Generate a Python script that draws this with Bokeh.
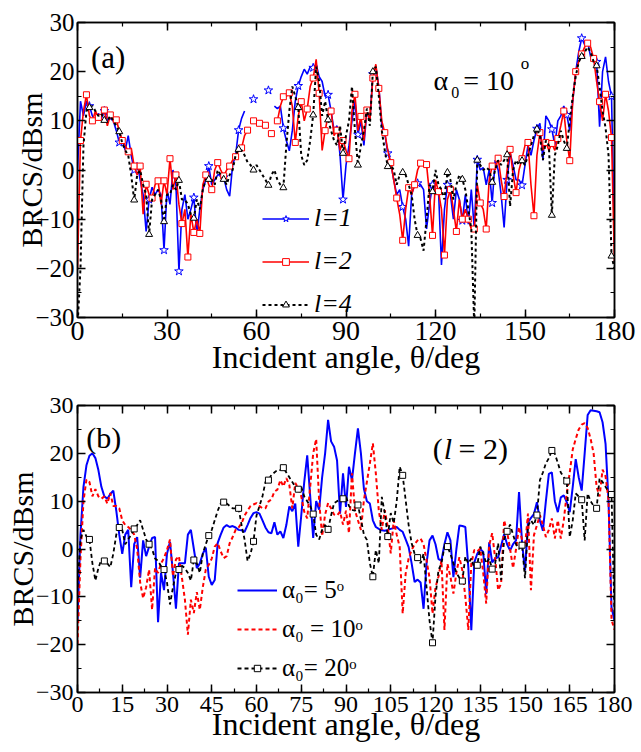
import numpy as np
from bokeh.plotting import figure
from bokeh.layouts import column
from bokeh.models import (Range1d, LinearAxis, SingleIntervalTicker, Legend,
                          LegendItem, Label, ColumnDataSource)
from bokeh.embed import file_html
from bokeh.resources import INLINE

nan = float("nan")
FONT = "Liberation Serif"

# ---------------- data ----------------
theta = list(range(181))  # incident angle, deg

# panel (a): alpha0 = 10 deg
a_l1 = [0, 14, 11, 14, 13, 11, 10, 11.5, 10.5, 12,
        10, 10.5, 10, 8, 5.6, 6, 4, 7, 3, 0,
        1.5, -2, -5, -12.5, -6, -3.5, -5, -4, -5, -16.3,
        -4, -7, 0, -3, -20.6, -8, -5, -10, -8, -5.6,
        -13, -8, -4, -2, 0.8, -3, -2, -1, -1, -1.5,
        -4, -5.3, 1, 3, 8.1, 10.5, 12, nan, nan, 14.4,
        nan, nan, nan, nan, 16.2, nan, 13, 12.5, 13, 8.5,
        6, 3.9, 8, 14, 17.1, 19, 20.5, 19.5, 21, 20.8,
        21.5, 19, 18, 15, 15.3, 12, 8, 9, 3, -6,
        1, 5, 10, 14, 7.2, 10, 5, 12, 10, 19.5,
        21, 17, 9, 7.5, 3.4, 1.5, -2, -5, -4, -7.5,
        -10, -15.5, -5, -3, -2.7, -3, -4, -12, -7, -3,
        -5, -4, -19.3, -8, -3, -5, -10, -4, -6, -10.3,
        -5, -11, -4, -12, 2.1, 0, 0.5, -3, 0, -6.7,
        2, 0, -5, -11.7, -2, 3.5, 1, -2, -2, -3.1,
        1, 5, 3, 6, 8.4, 9.5, 2, 11, 10, 8.3,
        5, 10, 11, 13, 11.2, 8, 14, 20, 24, 26.8,
        25.5, 26, 23, 22, 22, 8.8, 20, 23, 18, 15,
        -15]

a_l2 = [-20, 6, 12, 15.3, 11, 10, 12, 10.7, 11, 12.2,
        9, 11.2, 10, 10.2, 8, 6, 5, 3.7, 4.5, 0.8,
        -1, 0.8, -9, -2.9, -5, -5.7, -3, -2.2, -7, -2.2,
        -5, 2.3, -4, -1, -7, -10.9, -8, -17.7, -9, -12.7,
        -10, -12.9, -3, -1, -3, -4, 0, 1.5, 0, -1.2,
        0, 0.8, 2, 2.7, 4, 4.5, 7, 8.1, nan, 10,
        nan, 9.5, nan, 9.1, nan, 7.4, nan, 10, 13, 14.9,
        15, 15.7, 13, 5.6, 11, 13.9, 10, 12.4, 17, 18.7,
        22.5, 15.6, 4, 8, 11, 12, 7, 8.1, 4, 6,
        4, 2.3, 12, 15.4, 8, 10.9, 6, 12.2, 10, 18.7,
        21.5, 16.6, 10, 7.6, 4, 1.5, -2, -5.7, -9, -14.3,
        -8, -3.6, -5, -3, 0, 1.4, 1.5, 1.1, -5, -13.3,
        -2, -4.4, -8, -17.3, -6, -4, -8, -12.5, -6, -10,
        -8, -10, -12, -12, -3, -6.7, -8, -12, -2, 0.8,
        0, 2.4, -2, -5.4, 0, 4.2, -1, -4.6, 0, 2.3,
        5, 5.6, -3, -9.3, 3, 7.6, 4, 5.6, 4, 5.4,
        4, 6.4, 9, 12, 6, 1.9, 14, 20, 22, 23.6,
        25, 25.8, 25, 22.7, 18, 13.9, 10, 15.4, 12, 6.6,
        -19]

a_l4 = [-32, -20, 5, 12, 12.7, 13, 12, 11, 11.5, 10.1,
        10, 11, 10, 9, 7.8, 5.5, 4, 3, -1, -6.1,
        -1, 0, -3, -5, -13.1, -6, -5, -4, -6, -10.5,
        -5, -5, -3, -4, -2.1, -6, -6, -7, -9, -9.8,
        -6, -8, -4, -2, -1.9, -2, -3, 0, -1, -1.9,
        -3, -1, 0, 3, 4.2, 4, 3, 1.6, 1, 0,
        1, 0, -1, -2, -3.1, -1, 0, -2, -3, -3.6,
        5, 12, 17, 15, 12.7, 3, 1, 2, 6, 11.2,
        21, 18, 11, 14, 10.2, 8, 6, 5, 9, 3.4,
        7, 10, 17, 8, 1, 5, 8, 12.5, 9, 20,
        21, 15, 8, 4, 0.7, 1, 0, -3, -1, -0.5,
        -1, -3, -5, -10, -13.3, -14, -16.4, -10, -3, -4.4,
        0, -3, -4, -6, -0.5, -2, -6, -3, -1, -1.9,
        -4, -8, -12, -32, 2, 1, 0, 0.5, 0, -2.5,
        0, 2, 1, 2, 3.1, -7.4, 0, 2, 1, 1.9,
        1, 3, 5, 7, 8.3, 7, 2, 6, 5, -9.2,
        3, 5, 8, 6, 4.4, 10, 15, 19, 22, 23.1,
        24, 25, 24, 22, 21.2, 17, 12, 8.6, 3, -17.5,
        -20]

# panel (b): l = 2
b_a5 = [-15, 3, 13, 17.5, 19.5, 20, 19, 16.5, 13, 11,
        10.5, 11.5, 12.2, 8, 3, -1, 3, 4, -8, 1,
        2.5, -6, 1.8, -1.5, 0.5, 2.3, 2.5, -15.3, -5, -8.6,
        -1, 1.5, -5, -12.5, -3, -3, -3, 3, 4, 0,
        -4, -3, -1, 0.3, -5.8, -7.5, -6.5, 1.3, 3, 4.5,
        5, 4.6, 4.8, 4.5, 4, 3.9, 3.6, 5, 6.5, 7.5,
        7.7, 7.4, 6, 4.5, 3.5, 3.3, 5.6, 3, 3.7, 2.3,
        5, 8.9, 7.9, 9.5, 0.5, 7, 14, 19.6, 11, 2.3,
        10, 8.2, 15, 20, 27, 22.5, 21.4, 18.5, 7.4, 15.8,
        8.8, 17.2, 14.4, 20, 25.2, 20, 12.6, 10, 9.5, 6,
        4.6, 4.2, 3.9, 3.8, 4, 4.2, 4.4, 4.6, 4, 3.6,
        2, 0.4, -3, -6.9, -6.4, -7, -12.5, -3, 1.8, 2.8,
        1, -2.1, -2.4, 1, 3.5, 1.8, -5.9, 0, 4.9, 4.8,
        4.6, -3.8, -17, -2.8, -1, 0, -0.6, -9.4, 1.4, -2.8,
        -2, -1.7, 0.7, 3.1, 1, -0.3, 1, 1.8, 11.9, 1.4,
        -4.5, 5.6, 6.5, 7.3, 9.8, 5.9, 3.8, 10, 15.7, 16,
        10, 7.7, 10.8, 11.2, 9.8, 7.7, 13, 18.8, 15, 12.2,
        20, 28, 29, 28.9, 28.8, 28.6, 26.5, 22, 10, -12.2,
        -15]

b_a10 = [-19.9, -2, 10, 14.5, 14, 11, 12.5, 11, 10.5, 11,
         9.5, 11.7, 9, 9, 8.5, 6, 5, 4.6, 4, 3,
         0, -7, -10.3, -8, -4.3, -12.7, -4, -5, -3, -1.9,
         -0.2, 2, -5.7, -2.2, -1.5, -6, -10.6, -17.9, -10.6, -13.4,
         -9, -12.7, -8, -4.3, -3.3, -2, 0.5, 1.2, -0.5, -1.9,
         -1.5, 1.2, 2.5, 4, 4.5, 5.4, 7, 8, 9, 9.3,
         9.6, 9, 8.5, 8.5, 9.9, 10.4, 12, 12.4, 14.4, 13.1,
         14.8, 13.4, 8.5, 13.8, 12.7, 11, 7.8, 6.4, 13, 20,
         23, 10, 2.7, 7.2, 9.6, 8.5, 7.2, 7, 7.8, 5.1,
         8, 3.3, 15.8, 8.1, 6, 4, 10.2, 14, 17.9, 22.1,
         15.8, 8, 4, 8.1, 4.6, -0.9, 6, 3, 0.4, -13.5,
         -5.1, -2, -0.2, 1, 1.8, 2.2, 1, -2.4, -6, -13.5,
         -8, -5.8, -2.4, -16.9, -3.1, -5.8, -9.3, -5, -1.7, -4.5,
         -10, -16.9, -3.1, -0.2, -0.5, 0.1, -5, -11.4, 0.8, 3.3,
         -2, -8.6, -7.2, 6, 3.6, 0, -4, 0, 4.6, 2,
         0.5, 7.4, -8.6, 2.9, 5, 7.1, 5, 2.5, 4, 6.4,
         2.2, 6, 2.2, 6, 11.6, 16, 20.8, 23, 25, 26,
         26.3, 25.3, 23, 20, 13, 11, 16.6, 15.2, 10.3, -14.8,
         -16.9]

b_a20 = [-8, 2, 4, 2.6, 2, -3, -6.6, -4, -2.2, -2.5,
         -3, -3.8, -1, 3, 4.5, 4, 1, 2, 3, 4.2,
         5, 6, 4, 2, 1, 0, -2, -2.5, -3.6, -4.3,
         -7, -11.6, -8, -5, -4.3, -3.5, -4, -5, -6.6, -2.3,
         -3, -5, -1, 1, 2.8, 4, 6, 8, 9.5, 9.8,
         9.5, 9, 8.5, 8.5, 8.5, 5, 2, -2.5, -1, 1.6,
         7, 9, 11, 14, 14.4, 15.5, 16, 16.5, 16.5, 17,
         16, 15, 14, 13, 12.5, 13, 11, 10, 9, 7.3,
         3, 2, 4, 5, 4.1, 7, 9.6, 10, 10.3, 10.5,
         11, 9, 8.2, 8, 9.2, 6.2, 3, 1.9, -3, -5.8,
         -0.2, -3, 10.9, 7.5, 2.6, 7.5, 5.4, 10, 17.2, 15.4,
         10.2, 5, 1.2, -1, -1.8, -3, -1, -8, -15, -19.6,
         -9.9, -4.4, -3, 0.5, 0.5, -1, -3, -5, -6, -6.7,
         -1.6, -3, -2, -4, -3.4, 0.5, -1, -3, -2, -4.2,
         -3, 1.2, -6.5, 2, 3.7, 5.1, 3, 1, 0, 0.8,
         -6.1, 4.8, 6, 5, 7.1, 14.4, 16, 17.9, 19, 20.6,
         19.9, 18, 16, 15, 14.2, 2.5, 6, 11.6, 11, 10.3,
         1.8, 11.6, 10, 9, 8.5, 14.8, 14, 13, 12, 11.4,
         -14.1]

labels_a = ["l=1", "l=2", "l=4"]
labels_b = ["\u03b1\u2080= 5\u1d52", "\u03b1\u2080 = 10\u1d52", "\u03b1\u2080= 20\u1d52"]
x_title = "Incident angle, \u03b8/deg"
y_title = "BRCS/dBsm"


def style_axes(p, xint, xfont, yfont, ystand, xlab_off, ylab_off, xtitle_size):
    xt = SingleIntervalTicker(interval=xint, num_minor_ticks=2)
    yt = SingleIntervalTicker(interval=10, num_minor_ticks=2)
    bottom = p.below[0]
    left = p.left[0]
    bottom.ticker = xt
    left.ticker = yt
    top = LinearAxis(ticker=xt, major_label_text_color=None,
                     major_label_text_alpha=0, major_label_text_font_size="1px",
                     major_label_standoff=0)
    right = LinearAxis(ticker=yt, major_label_text_color=None,
                       major_label_text_alpha=0, major_label_text_font_size="1px",
                       major_label_standoff=0)
    p.add_layout(top, "above")
    p.add_layout(right, "right")
    for ax in (bottom, left, top, right):
        ax.major_tick_in = 8
        ax.major_tick_out = 0
        ax.minor_tick_in = 4
        ax.minor_tick_out = 0
        ax.axis_line_width = 1.5
        ax.axis_line_color = "black"
        ax.major_tick_line_width = 1.5
        ax.minor_tick_line_width = 1.2
        ax.major_tick_line_color = "black"
        ax.minor_tick_line_color = "black"
    bottom.major_label_text_font = FONT
    bottom.major_label_text_font_size = xfont
    bottom.major_label_text_color = "black"
    bottom.major_label_standoff = 4
    left.major_label_text_font = FONT
    left.major_label_text_font_size = yfont
    left.major_label_text_color = "black"
    left.major_label_standoff = ystand
    bottom.axis_label = x_title
    left.axis_label = y_title
    for ax in (bottom, left):
        ax.axis_label_text_font = FONT
        ax.axis_label_text_font_style = "normal"
        ax.axis_label_text_color = "black"
    bottom.axis_label_text_font_size = xtitle_size
    left.axis_label_text_font_size = "30px"
    left.axis_label_text_line_height = 0.8
    bottom.axis_label_standoff = xlab_off
    left.axis_label_standoff = ylab_off
    p.outline_line_color = "black"
    p.outline_line_width = 1.5
    p.xgrid.visible = False
    p.ygrid.visible = False


def src(xs, ys, start=0, step=1):
    return ColumnDataSource(dict(x=np.array(xs, dtype=float)[start::step],
                                 y=np.array(ys, dtype=float)[start::step]))


def txt(p, x, y, s, size, style="normal"):
    p.add_layout(Label(x=x, y=y, text=s, text_font=FONT, text_font_size=size,
                       text_font_style=style, text_color="black",
                       text_baseline="alphabetic", text_align="left"))


# ---------------- panel (a) ----------------
p1 = figure(width=641, height=390, output_backend="svg", toolbar_location=None,
            x_range=Range1d(0, 180), y_range=Range1d(-30, 30),
            min_border_left=68, min_border_right=27, min_border_top=22,
            min_border_bottom=73, background_fill_color="white")
style_axes(p1, 30, "28px", "25px", 3, -4, -16, "32px")

r1 = p1.line("x", "y", source=src(theta, a_l1), line_color="#0000ff", line_width=1.6)
m1 = p1.scatter("x", "y", source=src(theta, a_l1, 4, 5), marker="star", size=9,
                line_color="#0000ff", fill_color="white", line_width=1)
r2 = p1.line("x", "y", source=src(theta, a_l2), line_color="#ff0000", line_width=1.6)
m2 = p1.scatter("x", "y", source=src(theta, a_l2, 1, 2), marker="square", size=6,
                line_color="#ff0000", fill_color="white", line_width=1)
r4 = p1.line("x", "y", source=src(theta, a_l4), line_color="black", line_width=2,
             line_dash="3 3")
m4 = p1.scatter("x", "y", source=src(theta, a_l4, 4, 5), marker="triangle", size=7,
                line_color="black", fill_color="white", line_width=1)

leg1 = Legend(items=[LegendItem(label=labels_a[0], renderers=[r1, m1]),
                     LegendItem(label=labels_a[1], renderers=[r2, m2]),
                     LegendItem(label=labels_a[2], renderers=[r4, m4])],
              location=(185, -2), orientation="vertical",
              label_text_font=FONT, label_text_font_size="26px",
              label_text_font_style="italic", label_text_color="black",
              glyph_width=47, glyph_height=17, label_height=29, label_standoff=5,
              spacing=13, padding=0, margin=0, border_line_color=None,
              background_fill_alpha=0)
p1.add_layout(leg1)

txt(p1, 4.5, 22.9, "(a)", "31px")
txt(p1, 119.3, 18.2, "\u03b1", "28px")
txt(p1, 125.3, 15.8, "0", "16px")
txt(p1, 129.3, 18.2, "= 10", "28px")
txt(p1, 148.6, 21.7, "o", "17px")

# ---------------- panel (b) ----------------
p2 = figure(width=641, height=362, output_backend="svg", toolbar_location=None,
            x_range=Range1d(0, 180), y_range=Range1d(-30, 30),
            min_border_left=77, min_border_right=20, min_border_top=15,
            min_border_bottom=60, background_fill_color="white")
style_axes(p2, 15, "24px", "24px", 4, -9, -6, "32px")

q1 = p2.line("x", "y", source=src(theta, b_a5), line_color="#0000ff", line_width=2)
q2 = p2.line("x", "y", source=src(theta, b_a10), line_color="#ff0000", line_width=2,
             line_dash="4 3")
q3 = p2.line("x", "y", source=src(theta, b_a20), line_color="black", line_width=1.8,
             line_dash="4 3")
n3 = p2.scatter("x", "y", source=src(theta, b_a20, 4, 5), marker="square", size=6,
                line_color="black", fill_color="white", line_width=1)

leg2 = Legend(items=[LegendItem(label=labels_b[0], renderers=[q1]),
                     LegendItem(label=labels_b[1], renderers=[q2]),
                     LegendItem(label=labels_b[2], renderers=[q3, n3])],
              location=(160, 10), orientation="vertical",
              label_text_font=FONT, label_text_font_size="25px",
              label_text_color="black",
              glyph_width=40, glyph_height=16, label_height=29, label_standoff=5,
              spacing=10, padding=0, margin=0, border_line_color=None,
              background_fill_alpha=0)
p2.add_layout(leg2)

txt(p2, 2.9, 23.3, "(b)", "30px")
txt(p2, 119.1, 21, "(", "30px")
txt(p2, 122.8, 21, "l", "30px", "italic")
txt(p2, 127.7, 21, "= 2)", "30px")

layout = column(p1, p2, spacing=0)
open("out.html", "w").write(file_html(layout, INLINE))
